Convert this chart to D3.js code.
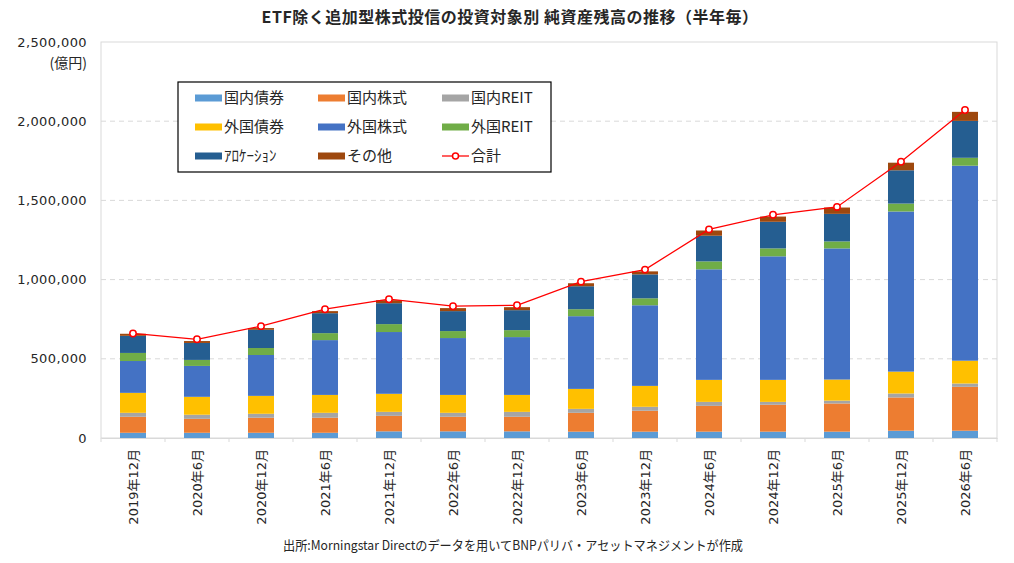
<!DOCTYPE html>
<html>
<head>
<meta charset="utf-8">
<script src="https://cdn.jsdelivr.net/npm/d3@7"></script>
<style>
  body { margin: 0; background: #fff; }
  text { font-family: "Noto Sans CJK JP", "Noto Sans", sans-serif; fill: #262626; }
  .num text, text.num { font-family: "DejaVu Sans", "Noto Sans CJK JP", sans-serif; }
</style>
</head>
<body>
<script>
    // categories (half-year periods)
    const periods = ["2019年12月", "2020年6月", "2020年12月", "2021年6月", "2021年12月", "2022年6月", "2022年12月",
        "2023年6月", "2023年12月", "2024年6月", "2024年12月", "2025年6月", "2025年12月", "2026年6月"];

    // net assets by category (億円)
    const domBond    = [33000, 33000, 33000, 33000, 42000, 42000, 42000, 40000, 40000, 40000, 40000, 40000, 46000, 46000];
    const domEquity  = [101000, 88000, 95000, 95000, 98000, 92000, 92000, 119000, 132000, 163000, 170000, 178000, 210000, 277000];
    const domReit    = [25000, 26000, 25000, 31000, 25000, 25000, 31000, 25000, 25000, 25000, 18000, 18000, 25000, 21000];
    const forBond    = [126000, 113000, 113000, 113000, 114000, 113000, 107000, 126000, 132000, 139000, 139000, 133000, 138000, 144000];
    const forEquity  = [201000, 195000, 258000, 346000, 390000, 359000, 365000, 459000, 509000, 698000, 780000, 828000, 1011000, 1231000];
    const forReit    = [51000, 38000, 44000, 44000, 50000, 44000, 44000, 44000, 44000, 50000, 50000, 44000, 50000, 50000];
    const allocation = [108000, 107000, 115000, 126000, 132000, 126000, 126000, 145000, 151000, 162000, 168000, 174000, 210000, 233000];
    const other      = [13000, 12000, 11000, 13000, 19000, 19000, 19000, 19000, 19000, 33000, 33000, 40000, 48000, 57000];
    const total      = [660000, 623000, 706000, 813000, 876000, 832000, 838000, 987000, 1063000, 1317000, 1409000, 1459000, 1744000, 2071000];

    const seriesNames = ["国内債券", "国内株式", "国内REIT", "外国債券", "外国株式", "外国REIT", "ｱﾛｹｰｼｮﾝ", "その他"];
    const seriesValues = [domBond, domEquity, domReit, forBond, forEquity, forReit, allocation, other];
    const colors = ["#5b9bd5", "#ed7d31", "#a5a5a5", "#ffc000", "#4472c4", "#70ad47", "#255e91", "#9e480e"];

    const yTicks = [0, 500000, 1000000, 1500000, 2000000, 2500000];

    const width = 1014, height = 563;
    const plotLeft = 101, plotRight = 997, plotTop = 42, plotBottom = 438;

    const svg = d3.select("body").append("svg")
        .attr("width", width)
        .attr("height", height);

    // rows for the stack
    const rows = periods.map((p, i) => {
        const r = { period: p };
        seriesNames.forEach((s, j) => r[s] = seriesValues[j][i]);
        return r;
    });
    const stacked = d3.stack().keys(seriesNames)(rows);

    const x = d3.scaleBand()
        .domain(periods)
        .range([plotLeft, plotRight])
        .paddingInner(0.594)
        .paddingOuter(0.297);

    const y = d3.scaleLinear()
        .domain([0, 2500000])
        .range([plotBottom, plotTop]);

    // plot area border
    svg.append("rect")
        .attr("x", plotLeft).attr("y", plotTop)
        .attr("width", plotRight - plotLeft).attr("height", plotBottom - plotTop)
        .attr("fill", "none")
        .attr("stroke", "#d9d9d9");

    // gridlines
    svg.append("g")
        .selectAll("line")
        .data(yTicks.filter(t => t > 0 && t < 2500000))
        .join("line")
        .attr("x1", plotLeft).attr("x2", plotRight)
        .attr("y1", d => y(d)).attr("y2", d => y(d))
        .attr("stroke", "#d9d9d9")
        .attr("stroke-dasharray", "5,4");

    // y axis labels
    const yAxis = svg.append("g")
        .attr("class", "num")
        .attr("transform", `translate(${plotLeft},0)`)
        .call(d3.axisLeft(y).tickValues(yTicks).tickFormat(d3.format(",")).tickSize(0).tickPadding(14));
    yAxis.select(".domain").remove();
    yAxis.selectAll("text")
        .style("font-size", "13px")
        .style("letter-spacing", "0.4px")
        .attr("fill", "#262626");

    svg.append("text")
        .attr("x", 87).attr("y", 68)
        .attr("text-anchor", "end")
        .style("font-size", "14px")
        .text("(億円)");

    // bars
    svg.append("g")
        .selectAll("g")
        .data(stacked)
        .join("g")
        .attr("fill", (d, i) => colors[i])
        .selectAll("rect")
        .data(d => d)
        .join("rect")
        .attr("x", d => x(d.data.period))
        .attr("y", d => y(d[1]))
        .attr("height", d => y(d[0]) - y(d[1]))
        .attr("width", x.bandwidth());

    // x axis
    const xAxis = svg.append("g")
        .attr("class", "num")
        .attr("transform", `translate(0,${plotBottom})`)
        .call(d3.axisBottom(x).tickSize(0).tickPadding(0));
    xAxis.select(".domain").attr("stroke", "#d9d9d9");
    xAxis.selectAll("text")
        .style("font-size", "13px")
        .attr("fill", "#262626")
        .attr("transform", "rotate(-90)")
        .attr("text-anchor", "end")
        .attr("dy", "0.35em")
        .attr("x", -11)
        .attr("y", 0);

    // category boundary tick marks
    svg.append("g")
        .selectAll("line")
        .data(d3.range(periods.length + 1))
        .join("line")
        .attr("x1", i => plotLeft + i * x.step())
        .attr("x2", i => plotLeft + i * x.step())
        .attr("y1", plotBottom).attr("y2", plotBottom + 4)
        .attr("stroke", "#d9d9d9");

    // total line
    const cx = (p) => x(p) + x.bandwidth() / 2;
    svg.append("path")
        .datum(total)
        .attr("fill", "none")
        .attr("stroke", "#ff0000")
        .attr("stroke-width", 1.25)
        .attr("d", d3.line().x((d, i) => cx(periods[i])).y(d => y(d)));

    svg.append("g")
        .selectAll("circle")
        .data(total)
        .join("circle")
        .attr("cx", (d, i) => cx(periods[i]))
        .attr("cy", d => y(d))
        .attr("r", 3.2)
        .attr("fill", "#fff")
        .attr("stroke", "#ff0000")
        .attr("stroke-width", 1.5);

    // legend
    const legend = svg.append("g");
    legend.append("rect")
        .attr("x", 178).attr("y", 82)
        .attr("width", 373).attr("height", 90)
        .attr("fill", "#fff")
        .attr("stroke", "#000")
        .attr("stroke-width", 1.2);

    const legendItems = seriesNames.map((s, i) => ({ name: s, color: colors[i], type: "bar" }))
        .concat([{ name: "合計", color: "#ff0000", type: "line" }]);
    const colX = [195, 318, 442];
    const rowY = [98, 127, 156];

    const item = legend.selectAll("g.item")
        .data(legendItems)
        .join("g")
        .attr("class", "item")
        .attr("transform", (d, i) => `translate(${colX[i % 3]},${rowY[Math.floor(i / 3)]})`);

    item.filter(d => d.type === "bar").append("rect")
        .attr("x", 0).attr("y", -3.5)
        .attr("width", 27).attr("height", 7)
        .attr("fill", d => d.color);

    const lineItem = item.filter(d => d.type === "line");
    lineItem.append("line")
        .attr("x1", 0).attr("x2", 27).attr("y1", 0).attr("y2", 0)
        .attr("stroke", "#ff0000").attr("stroke-width", 1.25);
    lineItem.append("circle")
        .attr("cx", 13.5).attr("cy", 0).attr("r", 3)
        .attr("fill", "#fff").attr("stroke", "#ff0000").attr("stroke-width", 1.5);

    item.append("text")
        .attr("x", 29).attr("y", 0)
        .attr("dy", "0.35em")
        .style("font-size", "15px")
        .attr("fill", "#000")
        .text(d => d.name);

    // title
    svg.append("text")
        .attr("x", 510).attr("y", 23)
        .attr("text-anchor", "middle")
        .style("font-size", "16px")
        .style("font-weight", "bold")
        .style("letter-spacing", "0.5px")
        .attr("fill", "#000")
        .text("ETF除く追加型株式投信の投資対象別 純資産残高の推移（半年毎）");

    // source note
    svg.append("text")
        .attr("x", 283).attr("y", 550)
        .attr("textLength", 460)
        .attr("lengthAdjust", "spacingAndGlyphs")
        .style("font-size", "13px")
        .attr("fill", "#000")
        .text("出所:Morningstar Directのデータを用いてBNPパリバ・アセットマネジメントが作成");
</script>
</body>
</html>
